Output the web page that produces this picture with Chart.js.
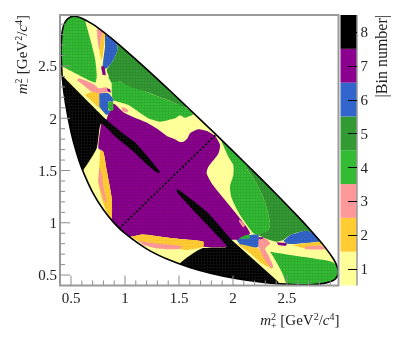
<!DOCTYPE html>
<html><head><meta charset="utf-8">
<style>html,body{margin:0;padding:0;background:#fff}canvas{display:block}</style>
<script src="https://cdn.jsdelivr.net/npm/chart.js@4"></script>
</head><body><canvas id="c" width="399" height="344"></canvas>
<script>
const binColors={1:'#ffff99',2:'#ffcc33',3:'#ff9999',4:'#33bb33',5:'#339933',6:'#3366cc',7:'#8c0090',8:'#000000'};
const binLabels=[1,2,3,4,5,6,7,8];
const xTickMarks=[0.5,0.6,0.7,0.8,0.9,1,1.1,1.2,1.3,1.4,1.5,1.6,1.7,1.8,1.9,2,2.1,2.2,2.3,2.4,2.5,2.6,2.7,2.8,2.9];
const yTickMarks=[0.5,0.6,0.7,0.8,0.9,1,1.1,1.2,1.3,1.4,1.5,1.6,1.7,1.8,1.9,2,2.1,2.2,2.3,2.4,2.5,2.6,2.7,2.8,2.9];
const majorTicks=[0.5,1,1.5,2,2.5];
const boundary=[[.406,2.65],[.42,2.84],[.45,2.93],[.5,2.972],[.55,2.974],[.6,2.957],[.7,2.9],[.8,2.826],[.9,2.743],[1,2.655],[1.2,2.471],[1.4,2.28],[1.6,2.084],[1.8,1.886],[2,1.685],[2.2,1.482],[2.4,1.275],[2.6,1.061],[2.7,.95],[2.8,.832],[2.9,.70],[2.95,.617],[2.976,.527],[2.95,.465],[2.9,.436],[2.8,.413],[2.7,.407],[2.6,.407],[2.4,.418],[2.2,.441],[2,.473],[1.8,.516],[1.6,.573],[1.4,.648],[1.2,.751],[1,.898],[.9,.997],[.8,1.124],[.7,1.291],[.6,1.521],[.55,1.674],[.5,1.869],[.45,2.137],[.42,2.382],[.406,2.65]];
const diagonal=[[.945,.945],[1.84,1.84]];
const bin7Center=[[.83,1.99],[.85,2.05],[.892,2.142],[1,2.047],[1.216,1.951],[1.294,1.903],[1.402,1.823],[1.463,1.8],[1.5,1.776],[1.54,1.776],[1.58,1.81],[1.602,1.856],[1.679,1.894],[1.757,1.878],[1.834,1.83],[1.88,1.744],[1.865,1.664],[1.772,1.537],[1.756,1.473],[1.803,1.377],[1.926,1.218],[2.065,1.042],[2.158,.899],[2.065,.835],[1.988,.835],[1.942,.771],[1.725,.771],[1.725,.819],[1.448,.851],[1.17,.889],[1.052,.867],[1,.86],[.86,1.02],[.877,1.042],[.877,1.234],[.83,1.505],[.799,1.68],[.753,1.712],[.778,1.945]];
const bin2West=[[.769,1.696],[.799,1.68],[.83,1.505],[.877,1.234],[.877,1.042],[.846,1.065],[.799,1.186],[.753,1.377],[.762,1.537]];
const bin3West=[[.762,1.537],[.784,1.473],[.799,1.345],[.83,1.186],[.806,1.218],[.753,1.393]];
const bin2South=[[1.052,.867],[1.17,.889],[1.448,.851],[1.725,.819],[1.725,.771],[1.571,.739],[1.509,.749],[1.293,.765],[1.139,.819]];
const bin3South=[[1.123,.829],[1.293,.803],[1.525,.778],[1.509,.749],[1.293,.755],[1.17,.787]];
const bin8West=[[.39,2.44],[.831,1.983],[.97,1.865],[1.093,1.769],[1.216,1.626],[1.324,1.482],[1.294,1.482],[1.201,1.559],[1.062,1.696],[.923,1.814],[.778,1.948],[.738,1.712],[.614,1.505],[.55,1.45],[.38,2]];
const bin8South=[[1.988,.835],[1.769,1.093],[1.626,1.216],[1.482,1.324],[1.482,1.294],[1.559,1.201],[1.696,1.05],[1.82,.915],[1.942,.771],[1.71,.755],[1.509,.612],[1.45,.45],[2.42,.38],[2.42,.436]];
const bin4North=[[.62,3],[.63,2.941],[.676,2.765],[.722,2.574],[.738,2.414],[.722,2.341],[.398,2.504],[.38,2.5],[.38,3]];
const bin4Upper=[[.877,2.335],[.846,2.398],[.954,2.351],[1.108,2.287],[1.432,2.159],[1.556,2.105],[1.65,2.05],[1.556,2.005],[1.509,2.03],[1.463,1.999],[1.402,1.983],[1.324,1.967],[1.216,1.999],[1.031,2.126],[.892,2.174],[.877,2.239]];
const bin5North=[[.92,2.78],[.929,2.654],[.892,2.558],[.83,2.462],[.846,2.414],[.877,2.351],[.954,2.351],[1.046,2.303],[1.231,2.239],[1.432,2.159],[1.556,2.105],[1.6,2.12],[.95,2.85]];
const bin6North=[[.815,2.797],[.8,2.85],[.93,2.75],[.923,2.717],[.929,2.654],[.892,2.558],[.83,2.478],[.793,2.478],[.815,2.685]];
const bin2North=[[.793,2.829],[.815,2.813],[.809,2.717],[.784,2.558],[.762,2.654],[.775,2.749]];
const bin3North=[[.738,2.861],[.793,2.829],[.775,2.749],[.762,2.654],[.744,2.765]];
const bin7Tiny1=[[.778,2.494],[.806,2.5],[.821,2.414],[.793,2.414]];
const bin6West=[[.762,2.239],[.846,2.239],[.886,2.191],[.892,2.159],[.846,2.159],[.846,2.079],[.867,2.063],[.83,2.032],[.762,2.111]];
const bin4Small=[[.846,2.159],[.886,2.159],[.892,2.079],[.861,2.07],[.84,2.105]];
const bin2West2=[[.63,2.223],[.707,2.255],[.762,2.239],[.762,2.111],[.83,2.032]];
const bin3West2=[[.552,2.366],[.577,2.382],[.722,2.319],[.753,2.287],[.83,2.296],[.861,2.255],[.762,2.239],[.691,2.255],[.614,2.319]];
const bin7Tiny2=[[.83,2.287],[.861,2.277],[.867,2.245],[.843,2.255]];
const bin3Small=[[.97,2.11],[1.031,2.078],[1.016,2.056],[.976,2.072]];
const bin4East=[[1.93,1.8],[2.15,1.56],[2.127,1.521],[2.219,1.377],[2.296,1.202],[2.343,.995],[2.327,.931],[2.235,.883],[2.188,.899],[2.065,1.074],[1.988,1.234],[1.972,1.345],[2.003,1.457],[2.003,1.553],[1.957,1.633],[1.895,1.776]];
const bin5East=[[2.13,1.57],[2.127,1.521],[2.219,1.377],[2.296,1.202],[2.343,.995],[2.327,.931],[2.235,.883],[2.266,.867],[2.343,.835],[2.404,.819],[2.466,.835],[2.528,.883],[2.667,.924],[2.729,.908],[2.76,.93],[2.3,1.45]];
const bin6East=[[2.528,.883],[2.667,.924],[2.729,.908],[2.83,.83],[2.806,.819],[2.543,.797],[2.497,.803],[2.466,.825]];
const bin6South=[[2.034,.835],[2.158,.883],[2.235,.883],[2.235,.771],[2.173,.762],[2.08,.771]];
const bin4Patch=[[2.05,.851],[2.142,.889],[2.158,.851],[2.08,.845]];
const bin7Tiny3=[[2.235,.861],[2.281,.861],[2.281,.835],[2.25,.835]];
const bin7Tiny4=[[2.404,.813],[2.497,.803],[2.491,.781],[2.42,.788]];
const bin3SouthEast=[[2.235,.835],[2.296,.851],[2.343,.803],[2.296,.755],[2.327,.692],[2.374,.58],[2.358,.564],[2.296,.644],[2.235,.771]];
const bin2East=[[2.543,.787],[2.806,.819],[2.821,.787],[2.667,.755]];
const bin3East=[[2.667,.771],[2.821,.781],[2.852,.746],[2.667,.746]];
const bin2SouthEast=[[2.034,.803],[2.235,.755],[2.266,.708],[2.358,.564],[2.266,.612],[2.158,.708]];
const bin4SouthEast=[[2.343,.723],[2.528,.692],[2.914,.628],[3,.55],[3,.38],[2.49,.38],[2.497,.404],[2.451,.532],[2.374,.676]];
const bin3Small2=[[2.059,1.033],[2.111,.979],[2.096,.956],[2.056,1.011]];

const layers=[[boundary,1],[bin7Center,7],[bin2West,2],[bin3West,3],[bin2South,2],[bin3South,3],[bin8West,8],[bin8South,8],[bin4North,4],[bin4Upper,4],[bin5North,5],[bin6North,6],[bin2North,2],[bin3North,3],[bin7Tiny1,7],[bin2West2,2],[bin6West,6],[bin4Small,4],[bin3West2,3],[bin7Tiny2,7],[bin3Small,3],[bin4East,4],[bin5East,5],[bin6East,6],[bin6South,6],[bin4Patch,4],[bin7Tiny3,7],[bin7Tiny4,7],[bin2SouthEast,2],[bin3SouthEast,3],[bin2East,2],[bin3East,3],[bin4SouthEast,4],[bin3Small2,3]];

const SERIF='"Liberation Serif","DejaVu Serif",serif';
Chart.defaults.font.family=SERIF;
const pts=a=>a.map(p=>({x:p[0],y:p[1]}));
const meshStrength={1:'rgba(0,0,0,0)',2:'rgba(0,0,0,0.03)',3:'rgba(0,0,0,0.03)',4:'rgba(0,0,0,0.08)',5:'rgba(0,0,0,0.08)',6:'rgba(0,0,0,0.08)',7:'rgba(0,0,0,0.1)',8:'rgba(255,255,255,0.05)'};
function textured(b){
  const t=document.createElement('canvas');t.width=3;t.height=3;
  const g=t.getContext('2d');g.fillStyle=binColors[b];g.fillRect(0,0,3,3);
  g.fillStyle=meshStrength[b];g.fillRect(0,0,3,1);g.fillRect(0,1,1,2);
  return g.createPattern(t,'repeat');
}
const regionSets=layers.map(([a,b])=>({label:'bin '+b,data:pts(a),showLine:true,pointRadius:0,borderWidth:0,tension:.2,
  fill:'shape',backgroundColor:textured(b),borderColor:'transparent',region:true}));
const datasets=[
 {label:'boundary',data:pts(boundary),showLine:true,pointRadius:0,borderWidth:1.6,borderColor:'#000',tension:.35,fill:false,backgroundColor:'transparent'},
 {label:'diagonal',data:pts(diagonal),showLine:true,pointRadius:0,borderWidth:1.6,borderColor:'#000',borderDash:[2,2],fill:false,region:true},
 ...regionSets.slice().reverse()
];
const clipPlugin={id:'boundaryClip',
 beforeDatasetDraw(chart,args){
  const ds=chart.data.datasets[args.index];const ctx=chart.ctx;
  if(!ds.region)return;
  const line=chart.getDatasetMeta(0).dataset;
  line.updateControlPoints(chart.chartArea,'x');
  ctx.save();ctx.beginPath();line.path(ctx);ctx.closePath();ctx.clip();
 },
 afterDatasetDraw(chart,args){
  if(chart.data.datasets[args.index].region)chart.ctx.restore();
 }
};
const filler=Chart.registry.getPlugin('filler');
Chart.unregister(filler);
Chart.register(clipPlugin,filler);

function mathText(ctx,x,y,pieces,size){
  const fontOf=p=>(p.i?'italic ':'')+(p.sup||p.sub?Math.round(size*.68):size)+'px '+SERIF;
  let w=0;for(const p of pieces){ctx.font=fontOf(p);if(!p.over)w+=ctx.measureText(p.t).width;}
  let cx=x-w;
  ctx.textAlign='left';ctx.textBaseline='alphabetic';
  for(const p of pieces){
    ctx.font=fontOf(p);
    ctx.fillText(p.t,cx,y+(p.sup?-size*.36:p.sub?size*.26:0));
    if(!p.over)cx+=ctx.measureText(p.t).width;
  }
}
const decor={id:'decor',
 afterDatasetsDraw(chart){
  const {ctx,chartArea:a,scales}=chart;
  ctx.save();
  ctx.strokeStyle='#8c8c8c';
  ctx.lineWidth=1;
  for(const t of scales.x.ticks){
    const p=scales.x.getPixelForValue(t.value),L=majorTicks.includes(t.value)?10:5;
    ctx.beginPath();ctx.moveTo(p,a.bottom);ctx.lineTo(p,a.bottom-L);ctx.stroke();
  }
  for(const t of scales.y.ticks){
    const p=scales.y.getPixelForValue(t.value),L=majorTicks.includes(t.value)?10:5;
    ctx.beginPath();ctx.moveTo(a.left,p);ctx.lineTo(a.left+L,p);ctx.stroke();
  }
  ctx.lineWidth=2;ctx.strokeStyle='#999';
  ctx.strokeRect(a.left,a.top,a.right-a.left,a.bottom-a.top);
  const b=scales.bin,x0=a.right+2,x1=a.right+18.5;
  for(const v of binLabels){
    const t=b.getPixelForValue(v+.5),u=b.getPixelForValue(v-.5);
    ctx.fillStyle=binColors[v];ctx.fillRect(x0,t,x1-x0,u-t);
  }
  ctx.strokeStyle='#999';ctx.lineWidth=1.5;
  ctx.beginPath();ctx.moveTo(x1,a.top);ctx.lineTo(x1,a.bottom);ctx.stroke();
  ctx.strokeStyle='#000';ctx.lineWidth=1;
  for(const v of binLabels){
    const p=Math.round(b.getPixelForValue(v))+.5;
    ctx.beginPath();ctx.moveTo(x1-9,p);ctx.lineTo(x1,p);ctx.stroke();
  }
  ctx.fillStyle='#222';
  mathText(ctx,a.right+1,325,[{t:'m',i:1},{t:'2',sup:1,over:1},{t:'+',sub:1},{t:' [GeV'},{t:'2',sup:1},{t:'/'},{t:'c',i:1},{t:'4',sup:1},{t:']'}],15);
  ctx.translate(27,a.top);ctx.rotate(-Math.PI/2);
  mathText(ctx,0,0,[{t:'m',i:1},{t:'2',sup:1,over:1},{t:'\u2212',sub:1},{t:' [GeV'},{t:'2',sup:1},{t:'/'},{t:'c',i:1},{t:'4',sup:1},{t:']'}],15);
  ctx.restore();
  ctx.save();ctx.fillStyle='#222';
  ctx.translate(387,a.top);ctx.rotate(-Math.PI/2);
  ctx.font='16px '+SERIF;ctx.textAlign='right';ctx.textBaseline='alphabetic';
  ctx.fillText('|Bin number|',0,0);
  ctx.restore();
 }
};
const lbl=v=>majorTicks.includes(v)?String(v):'';
const noMargins=s=>{s.paddingTop=0;s.paddingBottom=0;s.paddingLeft=0;s.paddingRight=0;};
new Chart(document.getElementById('c'),{
 type:'scatter',
 data:{datasets},
 plugins:[decor],
 options:{
  responsive:false,animation:false,devicePixelRatio:1,
  layout:{padding:{top:15,left:0,right:0,bottom:0}},
  plugins:{legend:{display:false},tooltip:{enabled:false},filler:{propagate:false}},
  scales:{
   x:{type:'linear',min:.398,max:2.977,grid:{display:false,drawTicks:false},border:{display:false},
      afterBuildTicks:s=>{s.ticks=xTickMarks.map(v=>({value:v}));},
      afterFit:s=>{s.height=58.5;noMargins(s);},
      ticks:{autoSkip:false,maxRotation:0,padding:5,color:'#222',font:{size:15},callback:lbl}},
   y:{type:'linear',min:.4,max:2.988,grid:{display:false,drawTicks:false},border:{display:false},
      afterBuildTicks:s=>{s.ticks=yTickMarks.map(v=>({value:v}));},
      afterFit:s=>{s.width=60;noMargins(s);},
      ticks:{autoSkip:false,padding:3,labelOffset:1.5,color:'#222',font:{size:15},callback:lbl}},
   bin:{type:'linear',position:'right',min:.5,max:8.5,grid:{display:false,drawTicks:false},border:{display:false},
      afterBuildTicks:s=>{s.ticks=binLabels.map(v=>({value:v}));},
      afterFit:s=>{s.width=60.5;noMargins(s);},
      ticks:{autoSkip:false,padding:22,labelOffset:1.5,color:'#222',font:{size:15},callback:v=>String(v)}}
  }
 }
});
</script></body></html>
